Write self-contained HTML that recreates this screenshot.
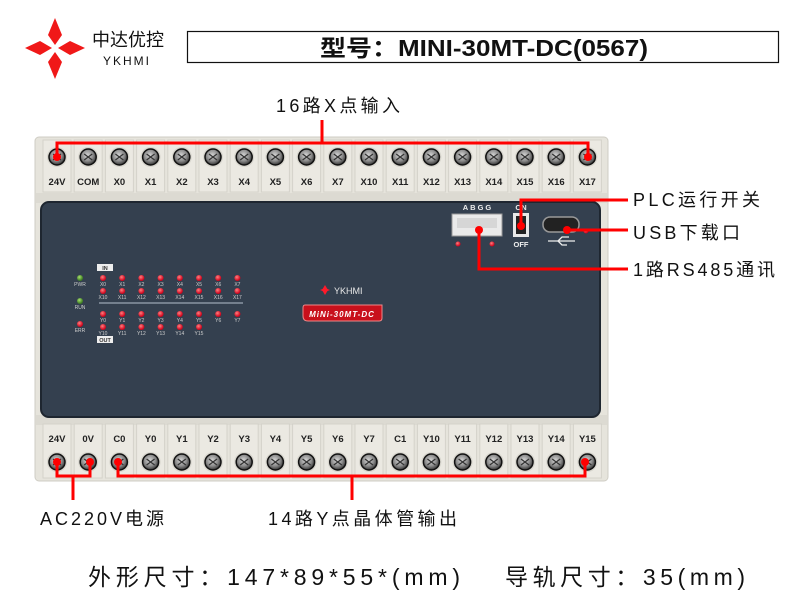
<!DOCTYPE html>
<html><head><meta charset="utf-8"><style>
html,body{margin:0;padding:0;background:#fff;width:800px;height:600px;overflow:hidden}
svg{display:block;font-family:"Liberation Sans","Noto Sans CJK SC",sans-serif}
</style></head><body>
<svg id="s" width="800" height="600" viewBox="0 0 800 600" xmlns="http://www.w3.org/2000/svg">
<defs>
<radialGradient id="scr" cx="45%" cy="40%" r="60%"><stop offset="0" stop-color="#d8d8d8"/><stop offset="0.6" stop-color="#8a8a8a"/><stop offset="1" stop-color="#333"/></radialGradient>
<radialGradient id="led" cx="40%" cy="35%" r="60%"><stop offset="0" stop-color="#ff8080"/><stop offset="1" stop-color="#d0001a"/></radialGradient>
<radialGradient id="gled" cx="40%" cy="35%" r="60%"><stop offset="0" stop-color="#a8e070"/><stop offset="1" stop-color="#3a7a20"/></radialGradient>
</defs>
<g fill="#f01818">
<polygon points="55,18 62,35 55,45 48,35"/>
<polygon points="55,52 62,62 55,79 48,62"/>
<polygon points="25,48 40,41 52,48 40,55"/>
<polygon points="58,48 70,41 85,48 70,55"/>
</g>
<text x="92" y="46" font-size="18" fill="#111">中达优控</text>
<text x="103" y="65" font-size="12" fill="#111" letter-spacing="2">YKHMI</text>
<rect x="187.5" y="31.5" width="591" height="31" fill="#fff" stroke="#111" stroke-width="1.2"/>
<text x="320" y="56" font-size="23" font-weight="bold" fill="#111" textLength="328" lengthAdjust="spacingAndGlyphs">型号：MINI-30MT-DC(0567)</text>
<rect x="35" y="137" width="573" height="344" rx="4" fill="#e6e4dc" stroke="#cfcdc4"/>
<rect x="36" y="193" width="571" height="10" fill="#dcdad2"/>
<rect x="36" y="415" width="571" height="10" fill="#dcdad2"/>
<rect x="41" y="202" width="559" height="215" rx="8" fill="#34404f" stroke="#1e2630" stroke-width="2"/>
<g id="terms"></g>
<g id="leds" font-size="5" fill="#ccc"></g>
<rect x="97" y="264" width="16" height="7" fill="#eee"/><text x="105" y="270" font-size="5.5" text-anchor="middle" fill="#333" font-weight="bold">IN</text>
<rect x="97" y="336" width="16" height="7" fill="#eee"/><text x="105" y="342" font-size="5.5" text-anchor="middle" fill="#333" font-weight="bold">OUT</text>
<line x1="99" y1="303" x2="243" y2="303" stroke="#8a96a3" stroke-width="1.5"/>
<g fill="#ff1a2a"><polygon points="325,285 328,290 325,295 322,290"/><polygon points="320,290 325,288 330,290 325,292"/></g>
<text x="334" y="294" font-size="9" fill="#e8e8e8">YKHMI</text>
<path d="M305,305 H382 V318 Q382,321 379,321 H308 Q303,321 303,316 V308 Q303,305 305,305Z" fill="#c8101c" stroke="#e88"/>
<text x="342" y="317" font-size="8" font-weight="bold" font-style="italic" fill="#fff" text-anchor="middle" letter-spacing="1">MiNi-30MT-DC</text>
<text x="478" y="210" font-size="7.5" font-weight="bold" fill="#eee" text-anchor="middle" letter-spacing="2">ABGG</text>
<rect x="452" y="214" width="50" height="22" fill="#eaeaea" stroke="#999"/>
<rect x="457" y="218" width="40" height="10" fill="#d6d6d6"/>
<circle cx="458" cy="244" r="2.5" fill="url(#led)"/><circle cx="492" cy="244" r="2.5" fill="url(#led)"/>
<text x="521" y="210" font-size="7.5" font-weight="bold" fill="#eee" text-anchor="middle">ON</text>
<rect x="513" y="213" width="16" height="24" fill="#e8e8e8"/><rect x="516" y="216" width="10" height="18" fill="#222"/>
<text x="521" y="247" font-size="7.5" font-weight="bold" fill="#eee" text-anchor="middle">OFF</text>
<rect x="543" y="217" width="36" height="15" rx="7" fill="#222" stroke="#999" stroke-width="1.5"/>
<g stroke="#eee" stroke-width="1.3" fill="none"><line x1="548" y1="241" x2="575" y2="241"/><polyline points="558,241 562,237 569,237"/><polyline points="558,241 562,245 567,245"/></g>
<circle cx="586" cy="231" r="2.5" fill="url(#led)"/>
<g stroke="#f00" stroke-width="3" fill="none">
<polyline points="57,157 57,143 588,143 588,157"/>
<line x1="322" y1="143" x2="322" y2="120"/>
<polyline points="57,462 57,476 90,476 90,462"/>
<line x1="73" y1="476" x2="73" y2="500"/>
<polyline points="118,462 118,476 585,476 585,462"/>
<line x1="352" y1="476" x2="352" y2="500"/>
<polyline points="521,226 521,200 628,200"/>
<line x1="567" y1="230" x2="628" y2="230"/>
<polyline points="479,230 479,269 628,269"/>
</g>
<g fill="#f00"><circle cx="57" cy="157" r="4"/><circle cx="588" cy="157" r="4"/><circle cx="57" cy="462" r="4"/><circle cx="90" cy="462" r="4"/><circle cx="118" cy="462" r="4"/><circle cx="585" cy="462" r="4"/><circle cx="521" cy="226" r="4"/><circle cx="567" cy="230" r="4"/><circle cx="479" cy="230" r="4"/></g>
<g font-size="18" fill="#111">
<text x="276" y="112" textLength="124" lengthAdjust="spacing">16路X点输入</text>
<text x="633" y="206" textLength="127" lengthAdjust="spacing">PLC运行开关</text>
<text x="633" y="239" textLength="107" lengthAdjust="spacing">USB下载口</text>
<text x="633" y="276" textLength="142" lengthAdjust="spacing">1路RS485通讯</text>
<text x="40" y="525" textLength="124" lengthAdjust="spacing">AC220V电源</text>
<text x="268" y="525" textLength="189" lengthAdjust="spacing">14路Y点晶体管输出</text>
</g>
<g font-size="23" fill="#111">
<text x="88" y="585" textLength="372" lengthAdjust="spacing">外形尺寸：147*89*55*(mm)</text>
<text x="505" y="585" textLength="240" lengthAdjust="spacing">导轨尺寸：35(mm)</text>
</g>
</svg>
<script>
var NS="http://www.w3.org/2000/svg";
function el(p,t,a,txt){var e=document.createElementNS(NS,t);for(var k in a)e.setAttribute(k,a[k]);if(txt)e.textContent=txt;p.appendChild(e);return e;}
var g=document.getElementById('terms');
var topL=["24V","COM","X0","X1","X2","X3","X4","X5","X6","X7","X10","X11","X12","X13","X14","X15","X16","X17"];
var botL=["24V","0V","C0","Y0","Y1","Y2","Y3","Y4","Y5","Y6","Y7","C1","Y10","Y11","Y12","Y13","Y14","Y15"];
for(var i=0;i<18;i++){
 var x=57+i*31.2;
 el(g,'rect',{x:x-14,y:140,width:28,height:52,fill:'#ebe9e2',stroke:'#d4d2ca'});
 el(g,'rect',{x:x-14,y:424,width:28,height:54,fill:'#ebe9e2',stroke:'#d4d2ca'});
 [157,462].forEach(function(cy){
  el(g,'circle',{cx:x,cy:cy,r:10,fill:'#d8d6ce'});
  el(g,'circle',{cx:x,cy:cy,r:8,fill:'url(#scr)',stroke:'#111','stroke-width':1.5});
  el(g,'path',{d:'M'+(x-4)+','+(cy-3)+' L'+(x+4)+','+(cy+3)+' M'+(x-4)+','+(cy+3)+' L'+(x+4)+','+(cy-3),stroke:'#333','stroke-width':1.2});
 });
 el(g,'text',{x:x,y:185,'font-size':9.5,'font-weight':'bold','text-anchor':'middle',fill:'#222'},topL[i]);
 el(g,'text',{x:x,y:442,'font-size':9.5,'font-weight':'bold','text-anchor':'middle',fill:'#222'},botL[i]);
}
var L=document.getElementById('leds');
function led(cx,cy,lbl,green){el(L,'circle',{cx:cx,cy:cy,r:3,fill:green?'url(#gled)':'url(#led)'});el(L,'text',{x:cx,y:cy+8,'text-anchor':'middle'},lbl);}
led(80,278,'PWR',1);led(80,301,'RUN',1);led(80,324,'ERR',0);
for(var j=0;j<8;j++){var cx=103+j*19.2;
 led(cx,278,'X'+j);led(cx,291,'X1'+j);led(cx,314,'Y'+j);
 if(j<6)led(cx,327,'Y1'+j);}
</script>
</body></html>
